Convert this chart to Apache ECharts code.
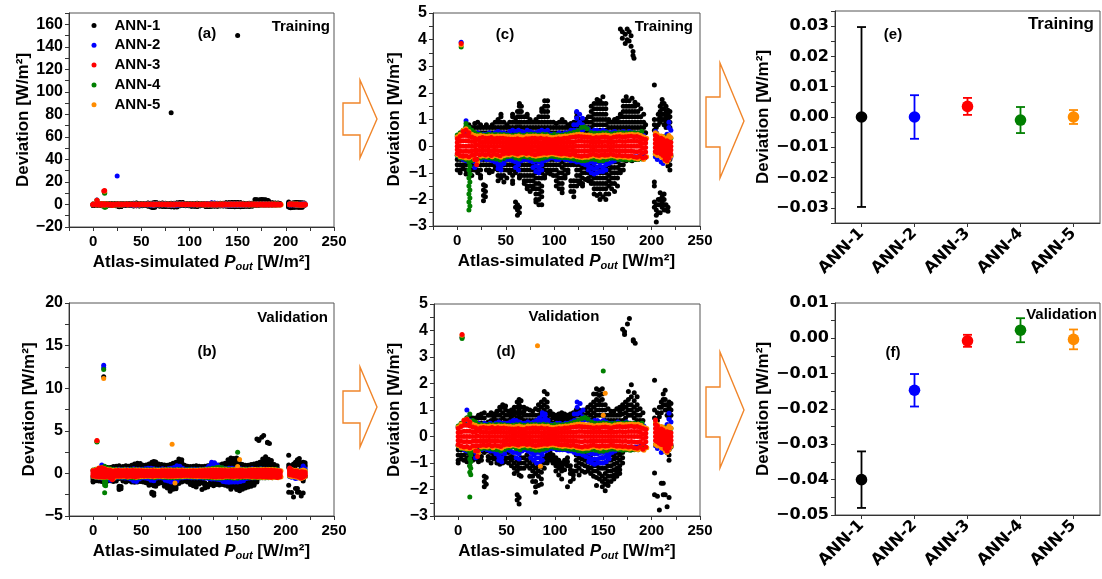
<!DOCTYPE html>
<html><head><meta charset="utf-8">
<script src="https://cdn.jsdelivr.net/npm/echarts@6/dist/echarts.min.js"></script>
<style>html,body{margin:0;padding:0;background:#fff}#c{width:1102px;height:579px}</style>
</head><body><div id="c"></div>
<script>
// ---------- DATA ----------
const annNames = ['ANN-1','ANN-2','ANN-3','ANN-4','ANN-5'];
const xTickLabels = [0,50,100,150,200,250];

// Training deviations, columns: [Pout, dev, dev, ...]
const trainANN1 = [[0,-0.5,-0.7,-0.9],[3,0.4,-0.5,-0.7,-0.9,-1.0],[6,0.45,-0.5,-0.7,-0.85],[9,0.5,0.7,-0.5,-0.7,-0.9,-1.05],[12,0.5,0.7,0.8,-0.5,-0.7,-0.9],[15,0.5,0.7,-0.5,-0.7,-0.9,-1.1],[18,0.5,0.7,0.85,-0.5,-0.7,-0.9],[21,0.5,0.7,0.9,-0.5,-0.7,-0.9,-1.0],[24,0.5,0.7,0.8,-0.5,-0.7,-0.9,-1.1,-1.2],[27,0.5,0.7,-0.5,-0.7,-1.45,-1.65,-1.85,-2.05],[29,-1.5,-1.7,-1.9],[30,0.5,0.7,0.8,-0.5,-0.7,-0.9],[33,0.5,0.7,-0.5,-0.7,-0.9,-1.0],[36,0.5,0.7,0.8,-0.5,-0.7,-0.95],[39,0.5,0.7,0.9,-0.5,-0.7,-0.85],[42,0.5,0.7,0.9,1.0,-0.5,-0.7,-0.9,-1.1,-1.3],[45,0.5,0.7,0.9,1.1,1.2,-0.5,-0.7,-0.9,-1.1,-1.2],[48,0.5,0.7,0.9,-0.5,-0.7,-0.9,-1.1,-1.35],[51,0.5,0.7,0.8,-0.5,-0.7,-0.9,-1.2],[54,0.5,0.7,0.9,-0.5,-0.7,-0.9,-1.0],[57,0.5,0.7,0.9,1.1,1.2,-0.5,-0.7,-0.9,-1.1,-1.3,-1.4],[60,0.5,0.7,0.9,1.05,-0.5,-0.7,-0.9,-1.0,-2.1,-2.3],[62,0.5,0.7,0.9,1.1,1.3,-0.6,-0.8,-2.2,-2.4,-2.6],[64,0.5,0.7,0.9,1.1,1.3,1.5,1.6,-0.5,-0.7,-0.9,-1.1,-1.2,-2.3,-2.5],[66,0.5,0.7,0.9,1.1,1.3,1.5,-0.5,-0.7,-0.9,-1.1],[69,0.5,0.7,0.9,1.1,-0.5,-0.7,-0.9,-1.1,-1.3,-1.4],[72,0.5,0.7,0.9,1.1,1.2,-0.5,-0.7,-0.9,-1.1,-1.3,-1.5,-1.6],[75,0.5,0.7,0.9,1.0,-0.5,-0.7,-0.9,-1.1,-1.3,-1.5,-1.7],[78,0.5,0.7,0.9,-0.5,-0.7,-0.9,-1.1,-1.3,-1.5,-1.6],[81,0.5,0.7,0.9,1.0,-0.6,-0.8,-1.0,-1.2,-1.4,-1.6,-1.8,-2.0,-2.1],[84,0.5,0.7,0.9,1.1,-0.6,-0.8,-1.0,-1.2,-1.4,-1.6,-1.8,-2.0,-2.2],[87,0.5,0.7,0.9,1.1,1.3,1.4,-0.6,-0.8,-1.0,-1.2,-1.5,-1.7,-1.9,-2.2],[90,0.5,0.7,0.9,1.1,1.3,1.5,1.7,-0.5,-0.7,-0.9,-1.1,-1.2],[93,0.5,0.7,0.9,1.1,1.3,1.5,1.7,-0.5,-0.7,-0.9,-1.0],[96,0.5,0.7,0.9,-0.5,-0.7,-0.9,-1.05],[99,0.5,0.7,0.9,-0.5,-0.7,-0.9,-1.1],[102,0.5,0.7,0.85,-0.5,-0.7,-0.9,-1.1,-1.3,-1.5],[105,0.5,0.7,0.9,-0.5,-0.7,-1.0,-1.2,-1.4,-1.6],[108,0.5,0.7,0.9,1.0,-0.6,-0.8,-1.0,-1.2,-1.4,-1.6,-1.75],[111,0.5,0.7,0.9,-0.5,-0.7,-0.9,-1.1,-1.2],[114,0.5,0.7,0.8,-0.5,-0.7,-0.9,-1.0],[117,0.5,0.7,0.85,-0.5,-0.7,-1.3,-1.5,-1.7],[120,0.5,0.7,0.9,-0.5,-0.7,-1.3,-1.5,-1.7,-1.9],[123,0.5,0.7,0.9,1.1,1.25,-0.5,-0.7,-0.9,-1.1,-1.3,-1.5],[126,0.5,0.7,0.9,1.0,-0.5,-0.7,-0.9,-1.1,-1.3,-1.4],[129,0.5,0.7,0.9,-0.6,-0.8,-1.0,-1.2,-1.4,-1.5],[132,0.5,0.7,0.9,1.0,-0.6,-0.8,-1.0,-1.25],[135,0.5,0.7,0.9,1.1,-0.6,-0.8,-1.0,-1.2,-1.3],[138,0.5,0.7,0.9,1.1,1.3,1.5,-0.7,-0.9,-1.1,-1.3,-1.4],[141,0.6,0.8,1.0,1.2,1.4,1.6,-0.8,-1.0,-1.2,-1.4,-1.6,-1.8],[144,0.6,0.8,1.0,1.2,1.4,1.6,1.75,-0.8,-1.0,-1.2,-1.4,-1.6,-1.85],[147,0.6,0.8,1.0,1.2,1.4,1.6,1.7,-0.8,-1.0,-1.2,-1.4,-1.6,-1.8,-2.0],[150,0.6,0.8,1.0,1.2,1.4,1.6,1.85,-0.8,-1.0,-1.2,-1.4,-1.6,-1.9],[153,0.6,0.8,1.0,1.2,1.4,1.6,-0.8,-1.0,-1.2,-1.4,-1.6,-1.8,-2.0],[156,0.5,0.7,0.9,1.0,-0.7,-0.9,-1.1,-1.3,-1.5,-1.8],[159,0.5,0.7,0.9,-0.6,-0.8,-1.0,-1.2,-1.4,-1.6],[162,0.5,0.7,0.9,1.0,-0.6,-0.8,-1.0,-1.2,-1.4,-1.7],[165,0.5,0.7,0.9,1.05,-0.6,-0.8,-1.0,-1.2,-1.5],[168,0.5,0.7,0.9,1.1,1.2,-0.5,-0.7,-0.9,-1.0,4.4],[170,4.3,4.05],[171,0.5,0.7,0.9,1.1,1.3,1.5,1.7,-0.5,-0.7,-0.9],[173,3.85,4.2],[174,0.5,0.7,0.9,1.1,1.3,1.5,1.7,1.85,-0.55],[175,4.4,4.0],[177,0.5,0.7,0.9,1.1,1.3,1.5,1.7,-0.5,4.3,3.95],[179,3.75,4.15],[180,0.5,0.7,0.9,1.1,1.3,1.5,1.8,-0.55],[181,3.55,3.4],[182,3.3],[183,0.5,0.7,0.9,1.1,1.3,1.5,1.65,-0.5],[186,0.5,0.7,0.9,1.1,1.3,1.55,-0.5],[189,0.5,0.7,0.9,1.1,1.4,-0.45],[192,0.5,0.7,0.9,1.2],[194,0.5,0.8],[203,2.3,0.6,0.8,1.0,-1.35,-1.5,-2.1,-2.3],[205,0.5,0.7,-2.2,-2.4,-2.6,-2.85],[207,0.8,1.0,1.2,-2.0,-2.2,-2.5],[209,0.9,1.1,1.3,1.5,-1.75,-2.0,-2.2,-2.5],[211,1.0,1.2,1.4,1.6,1.75,-1.9,-2.1,-2.3],[213,0.8,1.0,1.2,1.4,1.6,-1.8,-2.0,-2.2,-2.4],[215,0.7,0.9,1.1,1.3,1.5,-2.2,-2.4],[217,0.8,1.0,1.2,1.35,-0.55,-0.75,-2.3,-2.45],[219,0.7,0.9,1.1,1.3,-0.5,-0.7,-0.9],[150,150],[81,81.5]];
const trainANN2 = [[0,-0.35,0.35],[3,-0.45,0.45],[6,-0.5,0.55],[9,-0.55,0.5,0.95],[12,-0.6,0.55],[15,-0.55,0.5],[18,-0.6,-0.8,0.45],[21,-0.55,0.5],[24,-0.5,0.45],[27,-0.45,0.45],[30,-0.5,0.45],[33,-0.5,0.5],[36,-0.55,0.45],[39,-0.6,0.5],[42,-0.55,-0.7,-0.85,0.55],[45,-0.6,-0.75,-0.9,0.5],[48,-0.65,0.5],[51,-0.5,0.45],[54,-0.5,0.55],[57,-0.55,0.6],[60,-0.6,-0.8,0.55],[63,-0.55,-0.7,-0.9,0.6],[66,-0.55,0.55],[69,-0.5,0.5],[72,-0.5,0.6],[75,-0.55,0.55],[78,-0.6,-0.8,0.5],[81,-0.55,-0.75,-0.95,0.5],[84,-0.6,-0.8,-1.0,0.55],[87,-0.55,-0.7,-0.9,0.6],[90,-0.55,0.55],[93,-0.5,0.6],[96,-0.45,0.45],[99,-0.45,0.45],[102,-0.5,0.45],[105,-0.5,0.5],[108,-0.45,0.45],[111,-0.5,0.5],[114,-0.5,0.5],[117,-0.55,0.6],[120,-0.55,0.6,0.8],[123,-0.6,0.6,0.8,1.05,1.3],[126,-0.6,0.6,0.9,1.2],[129,-0.65,0.6,0.8,1.05],[132,-0.7,0.7],[135,-0.6,-0.75,-0.9,0.65],[138,-0.6,-0.8,-1.0,0.55],[141,-0.65,-0.85,-1.05,0.6],[144,-0.6,-0.8,-1.0,0.6],[147,-0.6,-0.75,-0.95,0.55],[150,-0.6,-0.8,-0.95,0.6],[153,-0.55,-0.7,-0.9,0.55],[156,-0.65,0.5],[159,-0.6,0.5],[162,-0.55,0.55],[165,-0.5,0.5],[168,-0.5,0.5],[171,-0.45,0.55],[174,-0.45,0.5],[177,-0.4,0.55],[180,-0.4,0.5],[183,-0.4,0.45],[186,-0.4,0.45],[189,-0.35,0.4],[192,-0.35,0.4],[204,-0.4,0.55],[206,-0.5,0.4],[208,-0.3,0.35],[210,-0.6,0.3],[212,-0.65,0.2],[214,-0.5,0.35],[216,-0.45,0.45],[218,-0.5,0.7,0.9],[220,-0.4,0.6],[4,3.9],[25,25.2]];
const trainANN3 = [[0,-0.28,-0.14,0,0.14,0.28],[3,-0.35,-0.18,0,0.18,0.36],[6,-0.38,-0.2,0,0.2,0.4,0.55],[9,-0.36,-0.18,0,0.2,0.4,0.6],[12,-0.4,-0.2,0,0.18,0.36,0.5],[15,-0.34,-0.17,0,0.17,0.34],[18,-0.5,-0.32,-0.16,0,0.16,0.3],[20,-0.7,-0.5,-0.3,-0.15,0.05,0.25],[23,-0.32,-0.16,0,0.16,0.3],[26,-0.3,-0.15,0,0.15,0.32],[29,-0.33,-0.16,0,0.16,0.3],[32,-0.3,-0.15,0,0.15,0.3],[35,-0.35,-0.17,0,0.16,0.32],[38,-0.3,-0.15,0,0.15,0.28],[41,-0.32,-0.16,0,0.16,0.3],[44,-0.36,-0.18,0,0.15,0.3],[47,-0.3,-0.15,0,0.15,0.3],[50,-0.27,-0.13,0,0.14,0.28],[53,-0.28,-0.14,0,0.14,0.27],[56,-0.25,-0.12,0,0.13,0.26],[59,-0.27,-0.13,0,0.13,0.26],[62,-0.3,-0.15,0,0.14,0.28],[65,-0.26,-0.13,0,0.13,0.25],[68,-0.25,-0.12,0,0.12,0.24],[71,-0.28,-0.14,0,0.14,0.28],[74,-0.26,-0.13,0,0.14,0.28],[77,-0.3,-0.15,0,0.15,0.3],[80,-0.32,-0.16,0,0.15,0.3],[83,-0.3,-0.15,0,0.15,0.28],[86,-0.28,-0.14,0,0.14,0.3],[89,-0.26,-0.13,0,0.13,0.27],[92,-0.27,-0.13,0,0.14,0.28],[95,-0.25,-0.12,0,0.12,0.25],[98,-0.24,-0.12,0,0.12,0.24],[101,-0.26,-0.13,0,0.13,0.26],[104,-0.28,-0.14,0,0.14,0.28],[107,-0.3,-0.15,0,0.14,0.27],[110,-0.28,-0.14,0,0.15,0.3],[113,-0.3,-0.15,0,0.15,0.3],[116,-0.32,-0.16,0,0.16,0.32],[119,-0.3,-0.15,0,0.15,0.33],[122,-0.34,-0.17,0,0.17,0.35],[125,-0.36,-0.18,0,0.18,0.36],[128,-0.38,-0.19,0,0.18,0.35],[131,-0.35,-0.17,0,0.17,0.34],[134,-0.36,-0.18,0,0.17,0.33],[137,-0.32,-0.16,0,0.16,0.32],[140,-0.3,-0.15,0,0.15,0.3],[143,-0.33,-0.16,0,0.16,0.32],[146,-0.35,-0.17,0,0.16,0.31],[149,-0.32,-0.16,0,0.16,0.33],[152,-0.34,-0.17,0,0.17,0.34],[155,-0.33,-0.16,0,0.16,0.32],[158,-0.3,-0.15,0,0.15,0.3],[161,-0.32,-0.16,0,0.16,0.33],[164,-0.35,-0.17,0,0.17,0.35],[167,-0.34,-0.17,0,0.18,0.36],[170,-0.36,-0.18,0,0.17,0.34],[173,-0.35,-0.17,0,0.17,0.35],[176,-0.38,-0.19,0,0.18,0.36],[179,-0.36,-0.18,0,0.18,0.37],[182,-0.4,-0.2,0,0.18,0.35],[185,-0.42,-0.21,0,0.18,0.36],[188,-0.38,-0.19,0,0.16,0.32],[191,-0.45,-0.25,-0.08,0.1,0.28],[194,-0.42,-0.22,-0.05,0.12,0.25],[204,-0.2,-0.05,0.1,0.25,0.4],[206,-0.25,-0.1,0.05,0.2,0.35],[208,-0.2,-0.05,0.1,0.25],[210,-0.3,-0.15,0,0.15,0.3],[212,-0.35,-0.2,-0.05,0.1,0.25],[214,-0.5,-0.35,-0.2,-0.05,0.1],[216,-0.55,-0.4,-0.25,-0.1,0.05,0.2],[218,-0.45,-0.3,-0.15,0,0.15],[220,-0.3,-0.15,0,0.15],[4,3.85],[12,12.5],[11,12.0]];
const trainANN4 = [[0,-0.35,0.42],[3,-0.45,0.5],[6,-0.45,0.6],[9,-0.5,0.75,0.85],[12,-0.6,-0.9,-1.2,-1.5,-1.8,-2.1,-2.4,0.7],[13,-0.75,-1.05,-1.35,-1.65,-1.95,-2.25],[15,-0.55,0.6],[18,-0.5,0.5],[21,-0.6,0.45],[24,-0.45,0.45],[28,-0.42,0.42],[32,-0.44,0.45],[36,-0.46,0.44],[40,-0.48,0.44],[44,-0.52,0.44],[48,-0.46,0.44],[52,-0.4,0.42],[56,-0.38,0.4],[60,-0.45,0.42],[64,-0.48,0.44],[68,-0.4,0.4],[72,-0.42,0.44],[76,-0.45,0.45],[80,-0.5,0.44],[84,-0.5,0.42],[88,-0.46,0.45],[92,-0.42,0.44],[96,-0.38,0.4],[100,-0.4,0.45],[104,-0.42,0.42],[108,-0.44,0.42],[112,-0.44,0.45],[116,-0.46,0.48],[120,-0.48,0.52],[124,-0.52,0.58],[128,-0.55,0.7],[131,-0.55,0.72],[134,-0.52,0.65],[138,-0.48,0.5],[142,-0.5,0.48],[146,-0.55,0.48],[150,-0.55,0.5],[154,-0.5,0.5],[158,-0.46,0.46],[162,-0.46,0.48],[166,-0.5,0.5],[170,-0.5,0.5],[174,-0.5,0.5],[178,-0.52,0.5],[182,-0.5,0.5],[186,-0.5,0.48],[190,-0.48,0.55],[193,-0.45,0.3],[204,-0.3,0.45],[208,-0.3,0.35],[212,-0.45,0.35],[216,-0.55,0.35],[220,-0.35,0.3],[4,3.72],[12,10.0],[12,10.6]];
const trainANN5 = [[0,-0.32,0.35],[3,-0.4,0.45],[6,-0.42,0.6],[9,-0.45,0.65],[12,-0.45,0.55],[15,-0.4,0.45],[18,-0.5,0.4],[21,-0.6,0.38],[24,-0.38,0.4],[27,-0.36,0.38],[30,-0.38,0.36],[33,-0.35,0.38],[36,-0.4,0.38],[39,-0.35,0.36],[42,-0.38,0.38],[45,-0.42,0.37],[48,-0.36,0.38],[51,-0.33,0.36],[54,-0.33,0.36],[57,-0.3,0.34],[60,-0.33,0.36],[63,-0.36,0.38],[66,-0.32,0.35],[69,-0.3,0.34],[72,-0.34,0.38],[75,-0.32,0.37],[78,-0.36,0.38],[81,-0.38,0.38],[84,-0.36,0.36],[87,-0.34,0.38],[90,-0.32,0.36],[93,-0.33,0.37],[96,-0.3,0.33],[99,-0.3,0.32],[102,-0.32,0.34],[105,-0.34,0.36],[108,-0.36,0.36],[111,-0.34,0.38],[114,-0.36,0.38],[117,-0.38,0.4],[120,-0.36,0.42],[123,-0.4,0.44],[126,-0.42,0.45],[129,-0.44,0.44],[132,-0.42,0.42],[135,-0.42,0.42],[138,-0.38,0.4],[141,-0.36,0.38],[144,-0.4,0.4],[147,-0.42,0.4],[150,-0.38,0.42],[153,-0.4,0.42],[156,-0.38,0.4],[159,-0.36,0.38],[162,-0.38,0.41],[165,-0.42,0.43],[168,-0.4,0.44],[171,-0.42,0.42],[174,-0.42,0.43],[177,-0.45,0.44],[180,-0.42,0.45],[183,-0.46,0.43],[186,-0.48,0.44],[189,-0.44,0.4],[192,-0.5,0.35],[195,-0.4,0.3],[204,-0.3,0.5],[206,-0.35,0.45],[208,-0.3,0.35],[210,-0.4,0.38],[212,-0.45,0.35],[214,-0.55,0.2],[216,-0.6,0.3],[218,-0.5,0.4],[220,-0.38,0.32],[4,3.8],[12,11.8]];

// Validation deviations
const validANN1 = [[0,-0.5,-0.7,-0.9,-1.0],[3,0.4,-0.5,-0.7,-0.85],[6,0.45,-0.5,-0.7,-0.9],[9,0.5,0.7,-0.6,-0.8,-0.95],[12,0.5,0.75,-0.5,-0.7,-0.9,-1.1],[15,0.5,0.7,-0.6,-0.75,-0.9],[18,0.45,0.7,-0.55,-0.7,-0.85],[21,0.5,0.7,0.8,-0.6,-0.8,-0.95],[24,0.5,0.7,0.85,-0.55,-0.75,-0.9],[27,0.5,0.7,0.9,-0.6,-1.5,-1.7,-1.9],[29,-1.55,-1.8],[31,0.55,0.8,-0.55,-0.75,-0.9],[34,0.6,0.8,0.9,-0.6,-0.8,-1.0],[37,0.55,0.7,0.85,-0.55,-0.7,-0.85],[40,0.6,0.8,0.95,-0.7,-0.85,-1.0],[43,0.6,0.8,1.0,1.1,-0.7,-0.9,-1.05],[46,0.7,0.9,1.1,1.2,-0.65,-0.85,-1.0],[49,0.6,0.8,1.0,1.15,-0.6,-0.8,-0.95],[52,0.6,0.8,0.95,-0.6,-0.8,-1.0],[55,0.7,0.85,1.0,-0.75,-0.9,-1.1],[58,0.6,0.8,0.95,1.1,-0.8,-1.0,-1.2,-1.4],[61,0.7,0.9,1.1,1.3,-0.9,-1.1,-1.3,-2.2,-2.4],[63,0.8,1.0,1.2,1.4,-1.0,-1.2,-1.45,-2.3,-2.55],[65,0.7,0.9,1.1,1.35,-0.8,-1.0,-1.2,-1.5],[68,0.6,0.8,0.95,1.1,-0.8,-1.0,-1.2],[71,0.6,0.8,1.05,-0.7,-0.9,-1.1],[74,0.6,0.8,1.0,-0.8,-1.0,-1.2,-1.5],[77,0.6,0.8,0.95,-0.9,-1.1,-1.3,-1.5,-1.7],[80,0.6,0.8,1.05,-1.0,-1.2,-1.4,-1.7,-1.9,-2.1],[83,0.6,0.8,1.0,1.2,-1.1,-1.3,-1.5,-1.85],[86,0.7,0.9,1.1,1.3,-0.95,-1.15,-1.35,-1.6,-1.8],[89,0.8,1.0,1.2,1.4,1.7,-0.8,-1.0,-1.2],[92,0.7,0.9,1.1,1.3,1.6,-0.7,-0.85,-1.0],[95,0.6,0.8,0.95,-0.6,-0.75,-0.9],[98,0.5,0.7,0.85,-0.7,-0.85,-1.0],[101,0.5,0.65,0.8,-0.8,-0.95,-1.1,-1.3],[104,0.55,0.7,0.85,-0.9,-1.05,-1.2,-1.45],[107,0.6,0.75,0.9,-1.0,-1.15,-1.3,-1.6],[110,0.55,0.7,0.85,-0.9,-1.05,-1.25],[113,0.5,0.65,0.8,-0.8,-0.95,-1.1,-1.9],[116,0.55,0.7,0.85,-1.1,-1.25,-1.4,-1.7],[119,0.6,0.75,0.9,-1.3,-1.45,-1.6],[122,0.6,0.8,1.0,-0.7,-0.9,-1.1,-1.3],[125,0.6,0.8,1.0,-0.8,-1.0,-1.2,-1.45],[128,0.6,0.8,0.95,-0.7,-0.85,-1.05,-1.3],[131,0.65,0.8,1.0,-0.7,-0.9,-1.1,-1.35],[134,0.7,0.9,1.1,-0.75,-0.95,-1.15,-1.3],[137,0.6,0.8,1.0,1.2,-0.8,-1.0,-1.2,-1.4],[140,0.7,0.9,1.1,1.3,1.6,-0.9,-1.1,-1.3,-1.5],[143,0.8,1.0,1.2,1.4,1.6,1.8,-0.9,-1.1,-1.3,-1.55,-1.85],[146,0.8,1.0,1.2,1.35,1.55,1.75,-1.0,-1.2,-1.4,-1.6],[149,0.8,1.0,1.2,1.4,1.6,1.8,-0.8,-1.0,-1.2,-1.5,-1.7,-1.9],[152,0.6,0.8,1.0,1.2,-1.0,-1.2,-1.4,-1.6,-1.8,-2.05],[155,0.6,0.8,1.05,-0.9,-1.1,-1.3,-1.5,-1.7,-1.85],[158,0.6,0.8,0.95,-0.7,-0.9,-1.1,-1.3,-1.5,-1.7],[161,0.6,0.8,0.95,-0.7,-0.85,-1.05,-1.25,-1.45,-1.6],[164,0.6,0.8,1.05,-0.6,-0.8,-1.0,-1.2,-1.35,-1.5],[167,0.6,0.8,0.95,1.1,-0.55,-0.7,-0.9,-1.1,-1.25,-1.4],[170,0.6,0.85,1.05,1.2,-0.6,-0.8,-1.0,4.05],[172,3.85,3.95],[173,0.7,0.9,1.1,1.3,-0.5],[175,4.25],[176,0.8,1.0,1.2,1.4,1.7,-0.5],[177,4.45],[179,0.8,1.0,1.2,1.5,1.95,-0.5],[181,3.65,3.6],[182,0.7,0.9,1.1,1.35,1.65],[183,3.52],[185,0.6,0.8,1.0,1.2,1.5,-0.45],[188,0.6,0.8,1.05,-0.4],[191,0.6,0.9],[203,2.12,0.7,1.0,-1.38,-2.2],[206,0.6,0.9,-2.25],[208,0.75,1.1,-2.77],[210,0.9,1.1,1.3,-1.76],[212,1.2,1.4,1.6,-1.76,-2.2],[214,1.0,1.2,1.4,1.75,-2.2],[216,0.8,1.0,1.2,-0.6,-2.65],[218,0.7,0.9,1.1,1.3,-0.5,-0.7,-0.9,-2.3],[220,0.8,1.0,1.25,-0.4],[11,11.35],[4,3.75]];
const validANN2 = [[0,-0.35,0.35],[3,-0.45,0.45],[6,-0.5,0.5],[9,-0.55,0.55,1.0],[12,-0.55,0.6],[15,-0.5,0.5],[18,-0.6,-0.8,0.45],[21,-0.5,0.5],[24,-0.5,0.45],[27,-0.45,0.5],[30,-0.5,0.45],[33,-0.55,0.5],[36,-0.55,0.45],[39,-0.65,0.5],[42,-0.6,-0.75,-0.9,0.55],[45,-0.6,-0.8,-0.95,0.5],[48,-0.65,0.5],[51,-0.5,0.5],[54,-0.55,0.55],[57,-0.6,0.6],[60,-0.6,-0.8,0.6],[63,-0.65,-0.85,0.55],[66,-0.55,0.5],[69,-0.5,0.5],[72,-0.55,0.55],[75,-0.6,-0.8,0.5],[78,-0.55,-0.7,-0.9,0.55],[81,-0.6,-0.8,-1.0,0.6],[84,-0.6,-0.8,-1.0,0.55,0.7],[87,-0.55,-0.7,-0.9,0.6,0.8,0.9],[90,-0.55,0.55,0.7,0.85],[93,-0.5,0.6],[96,-0.45,0.45],[99,-0.45,0.45],[102,-0.5,0.5],[105,-0.5,0.5],[108,-0.5,0.45],[111,-0.5,0.5],[114,-0.55,0.5],[117,-0.55,0.55],[120,-0.6,0.6,0.85],[123,-0.65,0.6,0.85,1.1,1.3],[126,-0.65,0.6,0.9,1.25],[129,-0.7,0.6,0.75,1.0],[132,-0.75,0.65],[135,-0.6,-0.8,-0.95,0.6],[138,-0.65,-0.85,-1.0,0.55],[141,-0.65,-0.85,-1.05,0.6],[144,-0.65,-0.85,-1.0,0.6],[147,-0.6,-0.8,-1.0,0.55],[150,-0.6,-0.8,-1.0,0.6],[153,-0.6,-0.75,-0.95,0.55],[156,-0.55,-0.7,-0.85,0.5],[159,-0.6,0.5],[162,-0.55,0.5],[165,-0.5,0.55],[168,-0.5,0.5],[171,-0.45,0.5],[174,-0.45,0.55],[177,-0.4,0.5],[180,-0.45,0.5],[183,-0.4,0.45],[186,-0.4,0.45],[189,-0.35,0.4],[192,-0.35,0.4],[204,-0.35,0.6],[206,-0.45,0.4],[208,-0.3,0.3],[210,-0.6,0.3],[212,-0.55,0.25],[214,-0.45,0.35],[216,-0.4,0.45],[218,-0.45,0.65,0.88],[220,-0.35,0.55],[11,12.7],[11,12.4]];
const validANN3 = [[0,-0.3,-0.15,0,0.15,0.3],[3,-0.36,-0.18,0,0.18,0.38],[6,-0.4,-0.2,0,0.2,0.42,0.6],[9,-0.38,-0.19,0,0.2,0.42,0.65],[12,-0.42,-0.21,0,0.2,0.4,0.55],[15,-0.36,-0.18,0,0.18,0.36],[18,-0.55,-0.35,-0.17,0,0.17,0.33],[20,-0.75,-0.55,-0.35,-0.17,0.02,0.22],[23,-0.34,-0.17,0,0.17,0.32],[26,-0.32,-0.16,0,0.16,0.34],[29,-0.34,-0.17,0,0.17,0.32],[32,-0.31,-0.15,0,0.15,0.31],[35,-0.36,-0.18,0,0.17,0.34],[38,-0.33,-0.16,0,0.16,0.3],[41,-0.35,-0.17,0,0.17,0.33],[44,-0.38,-0.19,0,0.16,0.31],[47,-0.32,-0.16,0,0.16,0.32],[50,-0.29,-0.14,0,0.15,0.3],[53,-0.3,-0.15,0,0.15,0.29],[56,-0.27,-0.13,0,0.14,0.28],[59,-0.29,-0.14,0,0.14,0.28],[62,-0.32,-0.16,0,0.15,0.3],[65,-0.28,-0.14,0,0.14,0.27],[68,-0.27,-0.13,0,0.13,0.26],[71,-0.3,-0.15,0,0.15,0.3],[74,-0.28,-0.14,0,0.15,0.3],[77,-0.32,-0.16,0,0.16,0.32],[80,-0.34,-0.17,0,0.16,0.32],[83,-0.32,-0.16,0,0.16,0.3],[86,-0.3,-0.15,0,0.15,0.32],[89,-0.28,-0.14,0,0.14,0.29],[92,-0.29,-0.14,0,0.15,0.3],[95,-0.26,-0.13,0,0.13,0.27],[98,-0.25,-0.12,0,0.13,0.26],[101,-0.27,-0.13,0,0.14,0.28],[104,-0.3,-0.15,0,0.15,0.3],[107,-0.31,-0.15,0,0.15,0.29],[110,-0.3,-0.15,0,0.16,0.32],[113,-0.32,-0.16,0,0.16,0.32],[116,-0.34,-0.17,0,0.17,0.34],[119,-0.32,-0.16,0,0.16,0.35],[122,-0.36,-0.18,0,0.18,0.37],[125,-0.38,-0.19,0,0.19,0.38],[128,-0.4,-0.2,0,0.19,0.37],[131,-0.37,-0.18,0,0.18,0.36],[134,-0.38,-0.19,0,0.18,0.35],[137,-0.34,-0.17,0,0.17,0.34],[140,-0.32,-0.16,0,0.16,0.32],[143,-0.35,-0.17,0,0.17,0.34],[146,-0.37,-0.18,0,0.17,0.33],[149,-0.34,-0.17,0,0.17,0.35],[152,-0.36,-0.18,0,0.18,0.36],[155,-0.35,-0.17,0,0.17,0.34],[158,-0.32,-0.16,0,0.16,0.32],[161,-0.34,-0.17,0,0.17,0.35],[164,-0.37,-0.18,0,0.18,0.37],[167,-0.36,-0.18,0,0.19,0.38],[170,-0.38,-0.19,0,0.18,0.36],[173,-0.37,-0.18,0,0.18,0.37],[176,-0.4,-0.2,0,0.19,0.38],[179,-0.38,-0.19,0,0.19,0.39],[182,-0.42,-0.21,0,0.19,0.37],[185,-0.44,-0.22,0,0.19,0.38],[188,-0.4,-0.2,0,0.17,0.34],[191,-0.48,-0.27,-0.08,0.1,0.3],[194,-0.4,-0.2,-0.03,0.12,0.26],[204,-0.15,0,0.15,0.3,0.45,0.62],[206,-0.2,-0.05,0.1,0.25,0.4],[208,-0.25,-0.1,0.05,0.2],[210,-0.3,-0.15,0,0.15,0.28],[212,-0.32,-0.17,-0.02,0.12,0.24],[214,-0.45,-0.3,-0.15,0,0.12],[216,-0.55,-0.4,-0.25,-0.1,0.05,0.18],[218,-0.42,-0.27,-0.12,0.02,0.15],[220,-0.28,-0.14,0,0.14],[4,3.85]];
const validANN4 = [[0,-0.35,0.4],[3,-0.45,0.5],[6,-0.45,0.55],[9,-0.5,0.7],[12,-0.6,-0.85,-1.1,-1.35,0.85],[13,-0.7,-0.95,-1.2,-1.44],[15,-0.55,0.6],[18,-0.5,0.55],[21,-0.55,0.45],[24,-0.45,0.45],[28,-0.44,0.42],[32,-0.45,0.45],[36,-0.48,0.44],[40,-0.5,0.45],[44,-0.55,0.45],[48,-0.48,0.44],[52,-0.42,0.42],[56,-0.4,0.42],[60,-0.46,0.44],[64,-0.5,0.45],[68,-0.42,0.42],[72,-0.44,0.44],[76,-0.48,0.45],[80,-0.52,0.45],[84,-0.52,0.44],[88,-0.48,0.46],[92,-0.44,0.44],[96,-0.4,0.42],[100,-0.42,0.45],[104,-0.44,0.44],[108,-0.46,0.44],[112,-0.46,0.46],[116,-0.48,0.5],[120,-0.5,0.55],[124,-0.54,0.6],[128,-0.56,0.68],[131,-0.56,0.72],[134,-0.54,0.66],[138,-0.5,0.55],[142,-0.52,0.5],[146,-0.56,0.5],[150,-0.56,0.52],[154,-0.52,0.5],[158,-0.48,0.48],[162,-0.48,0.5],[166,-0.5,0.5],[170,-0.52,0.5],[174,-0.5,0.52],[178,-0.52,0.5],[182,-0.5,0.5],[186,-0.5,0.48],[190,-0.46,0.5],[193,-0.42,0.3],[204,-0.3,0.5],[208,-0.3,0.35],[212,-0.4,0.35],[216,-0.5,0.35],[220,-0.35,0.3],[4,3.7],[12,-2.28],[150,2.47],[11,12.2]];
const validANN5 = [[0,-0.34,0.36],[3,-0.42,0.46],[6,-0.44,0.62],[9,-0.46,0.66],[12,-0.46,0.56],[15,-0.42,0.46],[18,-0.52,0.42],[21,-0.62,0.38],[24,-0.4,0.4],[27,-0.38,0.4],[30,-0.4,0.38],[33,-0.37,0.4],[36,-0.42,0.4],[39,-0.37,0.38],[42,-0.4,0.4],[45,-0.44,0.39],[48,-0.38,0.4],[51,-0.35,0.38],[54,-0.35,0.38],[57,-0.32,0.36],[60,-0.35,0.38],[63,-0.38,0.4],[66,-0.34,0.37],[69,-0.32,0.36],[72,-0.36,0.4],[75,-0.34,0.39],[78,-0.38,0.4],[81,-0.4,0.4],[84,-0.38,0.38],[87,-0.36,0.4],[90,-0.34,0.38],[93,-0.35,0.39],[96,-0.32,0.35],[99,-0.32,0.34],[102,-0.34,0.36],[105,-0.36,0.38],[108,-0.38,0.38],[111,-0.36,0.4],[114,-0.38,0.4],[117,-0.4,0.42],[120,-0.38,0.44],[123,-0.42,0.46],[126,-0.44,0.47],[129,-0.46,0.46],[132,-0.44,0.44],[135,-0.44,0.44],[138,-0.4,0.42],[141,-0.38,0.4],[144,-0.42,0.42],[147,-0.44,0.42],[150,-0.4,0.44,0.8],[153,-0.42,0.44],[156,-0.4,0.42],[159,-0.38,0.4],[162,-0.4,0.43],[165,-0.44,0.45],[168,-0.42,0.46],[171,-0.44,0.44],[174,-0.44,0.45],[177,-0.47,0.46],[180,-0.44,0.47],[183,-0.48,0.45],[186,-0.5,0.46],[189,-0.46,0.42],[192,-0.52,0.36],[195,-0.42,0.3],[204,-0.3,0.52],[206,-0.36,0.45],[208,-0.3,0.36],[210,-0.42,0.38],[212,-0.46,0.34],[214,-0.55,0.22],[216,-0.6,0.3],[218,-0.5,0.4],[220,-0.38,0.32],[4,3.82],[82,3.42],[152,1.63],[85,-1.12],[11,11.15]];

// Mean deviation and error (panels e, f)
const trainMean = [0.0000, 0.0000, 0.0035, -0.0010, 0.0000];
const trainErr  = [0.0297, 0.0072, 0.0028, 0.0043, 0.0023];
const validMean = [-0.0400, -0.0147, -0.0007, 0.0023, -0.0003];
const validErr  = [0.0080, 0.0046, 0.0017, 0.0034, 0.0028];

// ---------- STYLE ----------
const FF = '"Liberation Sans", Arial, sans-serif';
const FF2 = '"DejaVu Sans", "Liberation Sans", sans-serif';
const colors = ['#000000','#0000ff','#ff0000','#007f00','#ff8c00'];
const drawOrder = [0,1,3,4,2]; // ANN-3 (red) drawn on top
const minus = s => String(s).replace('-', '\u2212');

function cols2pts(cols){ const out=[]; cols.forEach(c=>{ for(let i=1;i<c.length;i++) out.push([c[0],c[i]]); }); return out; }

const grids = [
  {left:69, top:13, width:265, height:214},   // a
  {left:433, top:13, width:267, height:213},  // c
  {left:835, top:11, width:265, height:212},  // e
  {left:69, top:303, width:265, height:213},  // b
  {left:434, top:304, width:266, height:212}, // d
  {left:835, top:303, width:265, height:212}  // f
].map(g=>Object.assign(g,{show:true, borderColor:'#555', borderWidth:1, containLabel:false}));

const xName = '{a|Atlas-simulated }{p|P}{s|out}{a| [W/m\u00B2]}';
const xNameStyle = {rich:{
  a:{fontSize:17, fontWeight:'bold', fontFamily:FF, color:'#000', lineHeight:20},
  p:{fontSize:17, fontWeight:'bold', fontStyle:'italic', fontFamily:FF, color:'#000', lineHeight:20},
  s:{fontSize:11, fontWeight:'bold', fontStyle:'italic', fontFamily:FF, color:'#000', lineHeight:9, verticalAlign:'bottom'}
}};

function scatterX(gi){
  return {type:'value', gridIndex:gi, min:-25, max:250, interval:25,
    axisLine:{show:true, onZero:false, lineStyle:{color:'#333', width:1}},
    axisTick:{show:true, length:4, lineStyle:{color:'#333'}},
    axisLabel:{margin:7, fontSize:15, fontWeight:'bold', fontFamily:FF, color:'#000',
      formatter:v => xTickLabels.indexOf(Math.round(v))>=0 ? String(Math.round(v)) : ''},
    splitLine:{show:false},
    name:xName, nameLocation:'middle', nameGap:25, nameTextStyle:xNameStyle};
}
function valY(gi, min, max, step, major, digits, gap, ff, fs){
  return {type:'value', gridIndex:gi, min, max, interval:step,
    axisLine:{show:true, onZero:false, lineStyle:{color:'#333', width:1}},
    axisTick:{show:true, length:4, lineStyle:{color:'#333'}},
    axisLabel:{margin:6, fontSize:fs, fontWeight:'bold', fontFamily:ff, color:'#000',
      formatter:v => { const k = Math.round(v/step); const m = Math.round(major/step);
        if (k % m !== 0) return ''; let val = Math.round(v/major)*major; if (Math.abs(val)<1e-12) val = 0;
        return minus(val.toFixed(digits)); }},
    splitLine:{show:false},
    name:'Deviation [W/m\u00B2]', nameLocation:'middle', nameGap:gap,
    nameTextStyle:{fontSize:17, fontWeight:'bold', fontFamily:FF, color:'#000'}};
}
function catX(gi){
  return {type:'category', gridIndex:gi, data:annNames, boundaryGap:true,
    axisLine:{show:true, onZero:false, lineStyle:{color:'#333'}},
    axisTick:{show:true, alignWithLabel:true, length:4, lineStyle:{color:'#333'}},
    axisLabel:{rotate:45, margin:8, fontSize:16, fontWeight:'bold', fontFamily:FF2, color:'#000', interval:0},
    splitLine:{show:false}};
}

const xAxes = [scatterX(0), scatterX(1), catX(2), scatterX(3), scatterX(4), catX(5)];
const yAxes = [
  valY(0, -20, 170, 10, 20, 0, 36, FF, 16),
  valY(1, -3, 5, 0.5, 1, 0, 30, FF, 16),
  valY(2, -0.035, 0.035, 0.005, 0.01, 2, 57, FF2, 16),
  valY(3, -5, 20, 2.5, 5, 0, 31, FF, 16),
  valY(4, -3, 5, 0.5, 1, 0, 31, FF, 16),
  valY(5, -0.05, 0.01, 0.005, 0.01, 2, 57, FF2, 16)
];

const train = [trainANN1, trainANN2, trainANN3, trainANN4, trainANN5];
const valid = [validANN1, validANN2, validANN3, validANN4, validANN5];

const series = [];
function addScatter(gi, set){
  drawOrder.forEach(k => {
    series.push({type:'scatter', name:annNames[k], xAxisIndex:gi, yAxisIndex:gi,
      data:cols2pts(set[k]), symbol:'circle', symbolSize:5, clip:true, silent:true,
      itemStyle:{color:colors[k], opacity:1}, emphasis:{disabled:true}});
  });
}
addScatter(0, train); addScatter(1, train); addScatter(3, valid); addScatter(4, valid);

function errSeries(gi, means, errs){
  return {type:'custom', name:'err'+gi, xAxisIndex:gi, yAxisIndex:gi, silent:true,
    data: means.map((m,i)=>[i, m, errs[i]]),
    renderItem:(params, api) => {
      const i = api.value(0), m = api.value(1), e = api.value(2);
      const c = api.coord([i, m]), hi = api.coord([i, m+e]), lo = api.coord([i, m-e]);
      const col = colors[params.dataIndex], w = 4.5;
      const st = {stroke:col, lineWidth:1.8};
      return {type:'group', children:[
        {type:'line', shape:{x1:c[0], y1:hi[1], x2:c[0], y2:lo[1]}, style:st},
        {type:'line', shape:{x1:c[0]-w, y1:hi[1], x2:c[0]+w, y2:hi[1]}, style:st},
        {type:'line', shape:{x1:c[0]-w, y1:lo[1], x2:c[0]+w, y2:lo[1]}, style:st},
        {type:'circle', shape:{cx:c[0], cy:c[1], r:5.8}, style:{fill:col}}
      ]};
    }};
}
series.push(errSeries(2, trainMean, trainErr));
series.push(errSeries(5, validMean, validErr));

// ---------- annotations ----------
function txt(x, y, s, align, fs){
  return {type:'text', x, y, style:{text:s, x:0, y:0, textAlign:align||'center', textVerticalAlign:'middle',
    font:'bold '+(fs||15)+'px '+FF, fill:'#000'}, silent:true};
}
const AO = '#f0852a';
function arrow(x0, x1, x2, yTop, yShT, yTip, yShB, yBot){
  return {type:'polygon', shape:{points:[[x0,yShT],[x1,yShT],[x1,yTop],[x2,yTip],[x1,yBot],[x1,yShB],[x0,yShB]]},
    style:{fill:'none', stroke:AO, lineWidth:1.4}, silent:true};
}
const graphic = [
  txt(207, 34, '(a)'), txt(330, 27, 'Training', 'right'),
  txt(505, 35, '(c)'), txt(693, 27, 'Training', 'right'),
  txt(893, 35, '(e)'), txt(1094, 24, 'Training', 'right', 17),
  txt(328, 318, 'Validation', 'right'), txt(207, 352, '(b)'),
  txt(564, 317, 'Validation', 'center'), txt(506, 352, '(d)'),
  txt(1097, 315, 'Validation', 'right'), txt(893, 353, '(f)'),
  arrow(343, 360, 377, 80, 103, 119, 135, 158),
  arrow(706, 720, 744, 63, 97, 121, 147, 178),
  arrow(343, 360, 377, 367, 391, 407, 423, 447),
  arrow(706, 720, 744, 352, 387, 410, 437, 468)
];

const chart = echarts.init(document.getElementById('c'), null, {renderer:'canvas'});
chart.setOption({
  animation:false,
  backgroundColor:'#ffffff',
  grid:grids, xAxis:xAxes, yAxis:yAxes, series,
  legend:{data:annNames, orient:'vertical', left:91.5, top:18, padding:0, itemGap:4.8,
    itemWidth:5, itemHeight:5, icon:'circle', selectedMode:false,
    textStyle:{fontSize:15, fontWeight:'bold', fontFamily:FF, color:'#000', padding:[0,0,0,13], lineHeight:14}},
  graphic
});
</script></body></html>
